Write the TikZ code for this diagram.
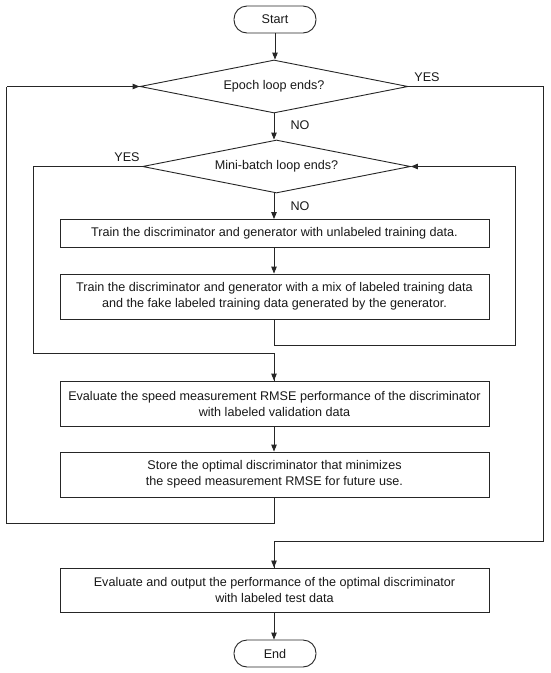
\documentclass[tikz,border=0pt]{standalone}
\usepackage{fontspec}
\setmainfont{Liberation Sans}
\usetikzlibrary{shapes.geometric,arrows.meta}
\begin{document}
\begin{tikzpicture}[x=1pt,y=-1pt,
  line width=0.9pt,
  every node/.style={font=\fontsize{12.6}{16}\selectfont, text=black!90},
  flow/.style={draw=black!85, -{Triangle[length=7pt,width=5.5pt]}},
  wire/.style={draw=black!85},
  term/.style={draw=black!85, rounded corners=13pt, minimum width=82pt, minimum height=27pt, inner sep=0pt},
  procbox/.style={draw=black!85, minimum width=429pt, inner sep=0pt, align=center},
  decide/.style={draw=black!85, diamond, shape aspect=5.06, inner sep=0pt, minimum width=268pt, minimum height=53pt},
  lbl/.style={font=\fontsize{12.6}{14}\selectfont}
]
\useasboundingbox (0,0) rectangle (550,673);
\fill[white] (0,0) rectangle (550,673);

\node[term] (start) at (275,19.5) {Start};
\node[decide] (epoch) at (274,86.5) {Epoch loop ends?};
\node[decide] (mini) at (276.5,166.5) {Mini-batch loop ends?};
\node[procbox, minimum height=28pt] (b1) at (274.5,233.5) {Train the discriminator and generator with unlabeled training data.};
\node[procbox, minimum height=45pt] (b2) at (274.5,296.5) {Train the discriminator and generator with a mix of labeled training data\\and the fake labeled training data generated by the generator.};
\node[procbox, minimum height=45.5pt] (ev) at (274.5,403.75) {Evaluate the speed measurement RMSE performance of the discriminator\\with labeled validation data};
\node[procbox, minimum height=45pt] (st) at (274.5,474.5) {Store the optimal discriminator that minimizes\\the speed measurement RMSE for future use.};
\node[procbox, minimum height=44.7pt] (fin) at (274.5,590.3) {Evaluate and output the performance of the optimal discriminator\\with labeled test data};
\node[term] (end) at (275,653.5) {End};

\coordinate (eL) at (6.5,86.5);
\coordinate (eBL) at (6.5,523.5);
\coordinate (eR) at (543,86.5);
\coordinate (eBR) at (543,541);
\coordinate (mL) at (33.5,166.5);
\coordinate (mBL) at (33.5,353);
\coordinate (mR) at (515.7,166.5);
\coordinate (mBR) at (515.7,345);

\draw[flow] (start) -- (start|-epoch.north);
\draw[flow] (epoch.south) -- (epoch.south|-mini.north);
\draw[flow] (mini.south-|epoch.south) -- (epoch.south|-b1.north);
\draw[flow] (b1.south-|epoch.south) -- (epoch.south|-b2.north);
\draw[wire] (b2.south-|epoch.south) |- (mBR) -- (mR);
\draw[flow] (mR) -- (mini.east);
\draw[wire] (mini.west) -- (mL) -- (mBL) -| (ev.north-|epoch.south) ;
\draw[flow] (epoch.south|-mBL) -- (epoch.south|-ev.north);
\draw[flow] (ev.south-|epoch.south) -- (epoch.south|-st.north);
\draw[wire] (st.south-|epoch.south) |- (eBL) -- (eL);
\draw[flow] (eL) -- (epoch.west);
\draw[wire] (epoch.east) -- (eR) -- (eBR) -| (epoch.south|-fin.north);
\draw[flow] (epoch.south|-eBR) -- (epoch.south|-fin.north);
\draw[flow] (fin.south-|epoch.south) -- (epoch.south|-end.north);

\node[lbl] (no1) at (300,125) {NO};
\node[lbl] (no2) at (300,206) {NO};
\node[lbl] (yes1) at (427,77) {YES};
\node[lbl] (yes2) at (127,157) {YES};
\end{tikzpicture}
\end{document}
